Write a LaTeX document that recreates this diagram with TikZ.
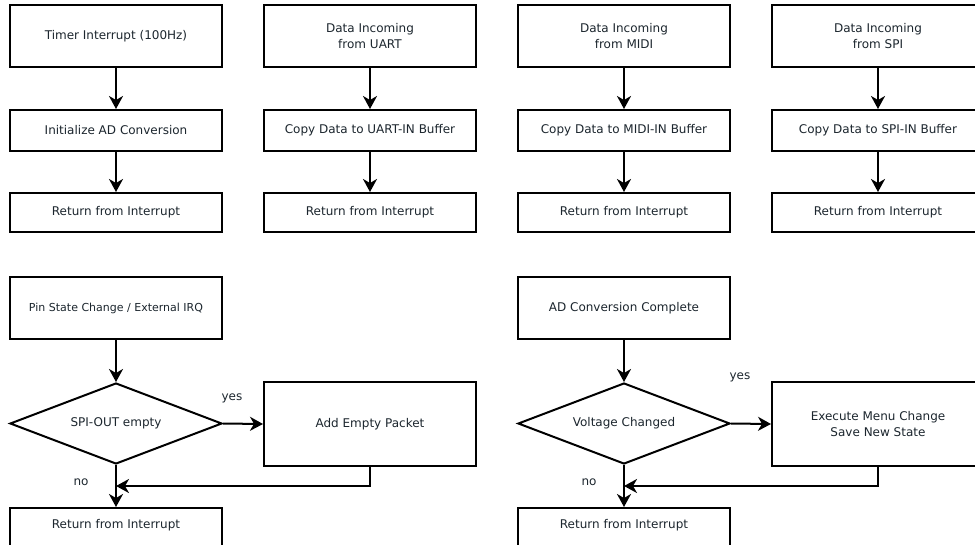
\documentclass[tikz,border=0pt]{standalone}
\usepackage{fontspec}
\setmainfont{DejaVu Sans}
\usetikzlibrary{shapes.geometric,arrows.meta}
\definecolor{txt}{RGB}{28,38,46}
\begin{document}
\begin{tikzpicture}[x=1pt,y=-1pt,
  every node/.style={font=\fontsize{12}{16}\selectfont, text=txt},
  box/.style={draw, line width=2pt, minimum width=212pt, inner sep=0pt, align=center},
  dia/.style={draw, diamond, line width=2pt, minimum width=212pt, minimum height=81pt, inner sep=0pt, aspect=2.6},
  lbl/.style={inner sep=0pt},
  conn/.style={line width=2pt, -{Stealth[length=13pt,width=14pt,inset=4pt]}}]
\useasboundingbox (0,0) rectangle (975,544);
\fill[white] (0,0) rectangle (975,544);
\clip (0,0) rectangle (975,544);
% top row
\node[box, minimum height=62pt] (a1) at (116,36) {Timer Interrupt (100Hz)};
\node[box, minimum height=41pt] (a2) at (116,130.5) {Initialize AD Conversion};
\node[box, minimum height=39pt] (a3) at (116,212.5) {Return from Interrupt};
\node[box, minimum height=62pt] (b1) at (370,36) {Data Incoming\\from UART};
\node[box, minimum height=41pt] (b2) at (370,130.5) {Copy Data to UART-IN Buffer};
\node[box, minimum height=39pt] (b3) at (370,212.5) {Return from Interrupt};
\node[box, minimum height=62pt] (c1) at (624,36) {Data Incoming\\from MIDI};
\node[box, minimum height=41pt] (c2) at (624,130.5) {Copy Data to MIDI-IN Buffer};
\node[box, minimum height=39pt] (c3) at (624,212.5) {Return from Interrupt};
\node[box, minimum height=62pt] (d1) at (878,36) {Data Incoming\\from SPI};
\node[box, minimum height=41pt] (d2) at (878,130.5) {Copy Data to SPI-IN Buffer};
\node[box, minimum height=39pt] (d3) at (878,212.5) {Return from Interrupt};
\foreach \c in {a,b,c,d}{
  \draw[conn] (\c1) -- (\c2);
  \draw[conn] (\c2) -- (\c3);
}
% bottom left
\node[box, minimum height=62pt] (p1) at (116,308) {\fontsize{11}{14}\selectfont Pin State Change / External IRQ};
\node[dia] (p2) at (116,423.5) {SPI-OUT empty};
\node[box, minimum height=84pt] (p3) at (370,424) {Add Empty Packet};
\node[box, minimum height=40pt, anchor=north] (p4) at (116,507) {};
\node[lbl] (p4t) at (116,525) {Return from Interrupt};
\coordinate (pm) at (116,486);
\node[lbl] (pyes) at (232,398) {yes};
\node[lbl] (pno) at (81,482) {no};
\draw[conn] (p1) -- (p2);
\draw[conn] (p2.east) -- (p3.west);
\draw[conn] (p2.south) -- (p4.north);
\draw[conn] (p3.south) |- (pm);
% bottom right
\node[box, minimum height=62pt] (q1) at (624,308) {AD Conversion Complete};
\node[dia] (q2) at (624,423.5) {Voltage Changed};
\node[box, minimum height=84pt] (q3) at (878,424) {Execute Menu Change\\Save New State};
\node[box, minimum height=40pt, anchor=north] (q4) at (624,507) {};
\node[lbl] (q4t) at (624,525) {Return from Interrupt};
\coordinate (qm) at (624,486);
\node[lbl] (qyes) at (740,377) {yes};
\node[lbl] (qno) at (589,482) {no};
\draw[conn] (q1) -- (q2);
\draw[conn] (q2.east) -- (q3.west);
\draw[conn] (q2.south) -- (q4.north);
\draw[conn] (q3.south) |- (qm);
\end{tikzpicture}
\end{document}
